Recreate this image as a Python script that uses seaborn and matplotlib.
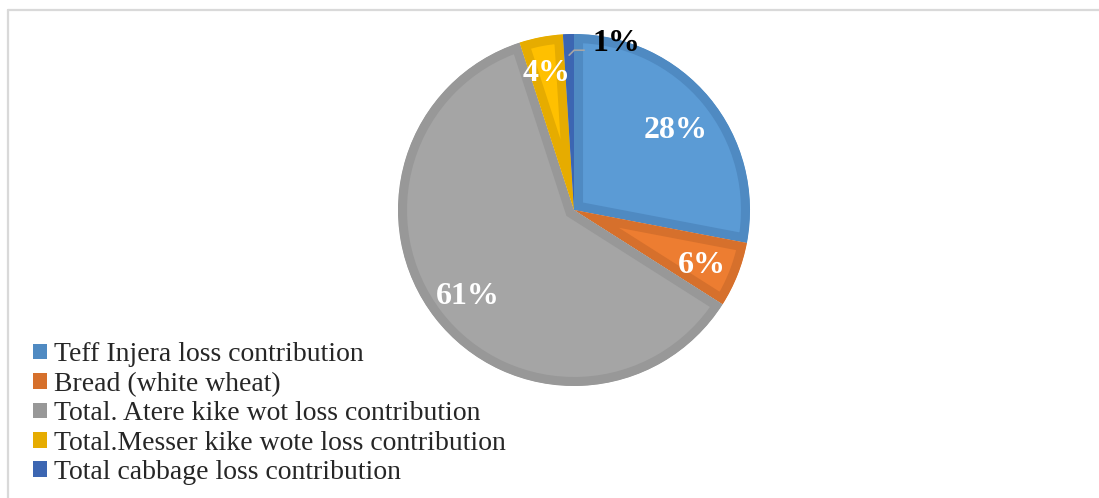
import numpy as np
import matplotlib
matplotlib.use("Agg")
import matplotlib.pyplot as plt
import seaborn as sns
from matplotlib.lines import Line2D
from matplotlib.patches import Patch

categories = [
    "Teff Injera loss contribution",
    "Bread (white wheat)",
    "Total. Atere kike wot loss contribution",
    "Total.Messer kike wote loss contribution",
    "Total cabbage loss contribution",
]
values = [28, 6, 61, 4, 1]
labels = ["28%", "6%", "61%", "4%", "1%"]
face_colors = ["#5B9BD5", "#ED7D31", "#A5A5A5", "#FFC000", "#4472C4"]
edge_colors = ["#4F8AC2", "#D6702C", "#989898", "#E6AC00", "#3C66B2"]

sns.set_theme(style="white")
plt.rcParams["font.family"] = ["Liberation Serif", "DejaVu Serif"]

W, H = 1099, 498
fig = plt.figure(figsize=(W / 100, H / 100), dpi=100)
ax = fig.add_axes([0, 0, 1, 1])

cx, cy, R = 574, 288, 176
wedges, _ = ax.pie(values, colors=face_colors, startangle=90, counterclock=False,
                   center=(cx, cy), radius=R, frame=True,
                   wedgeprops=dict(linewidth=0))
ax.set_xlim(0, W)
ax.set_ylim(0, H)
ax.set_aspect("equal")
ax.axis("off")

# bevel-like inner border: thick stroke of darker colour clipped to the wedge
for w, ec in zip(wedges, edge_colors):
    w.set_edgecolor(ec)
    w.set_linewidth(13)
    w.set_joinstyle("miter")
    w.set_clip_on(True)
    w.set_clip_path(w.get_path(), ax.transData)

# labels
dist = [0.75, 0.78, 0.76, 0.82]
for i, w in enumerate(wedges[:4]):
    ang = np.deg2rad((w.theta1 + w.theta2) / 2)
    x = cx + dist[i] * R * np.cos(ang)
    y = cy + dist[i] * R * np.sin(ang) - 5
    ax.text(x, y, labels[i], ha="center", va="center", color="white",
            fontsize=23, fontweight="bold")

# 1% label with leader line
w = wedges[4]
ang = np.deg2rad((w.theta1 + w.theta2) / 2)
px = cx + 0.88 * R * np.cos(ang)
py = cy + 0.88 * R * np.sin(ang)
ax.plot([px, px + 5, px + 15], [py, py + 5, py + 5], color="#A6A6A6", lw=1.2)
ax.text(px + 23, py + 12, labels[4], ha="left", va="center", color="black",
        fontsize=23, fontweight="bold")

handles = [Patch(facecolor=c, edgecolor="none") for c in edge_colors]
leg = fig.legend(handles, categories, loc="upper left",
                 bbox_to_anchor=(14 / W, 1 - 323 / H), frameon=False,
                 fontsize=20, handlelength=0.5, handleheight=0.5,
                 handletextpad=0.25, labelspacing=0.16, borderpad=0.2)

# chart frame (top and left edges visible)
fig.add_artist(Line2D([8 / W, 1.0], [1 - 10 / H, 1 - 10 / H],
                      transform=fig.transFigure, color="#D9D9D9", lw=1.6))
fig.add_artist(Line2D([8 / W, 8 / W], [0, 1 - 10 / H],
                      transform=fig.transFigure, color="#D9D9D9", lw=1.6))

fig.savefig("out.png", dpi=100)
